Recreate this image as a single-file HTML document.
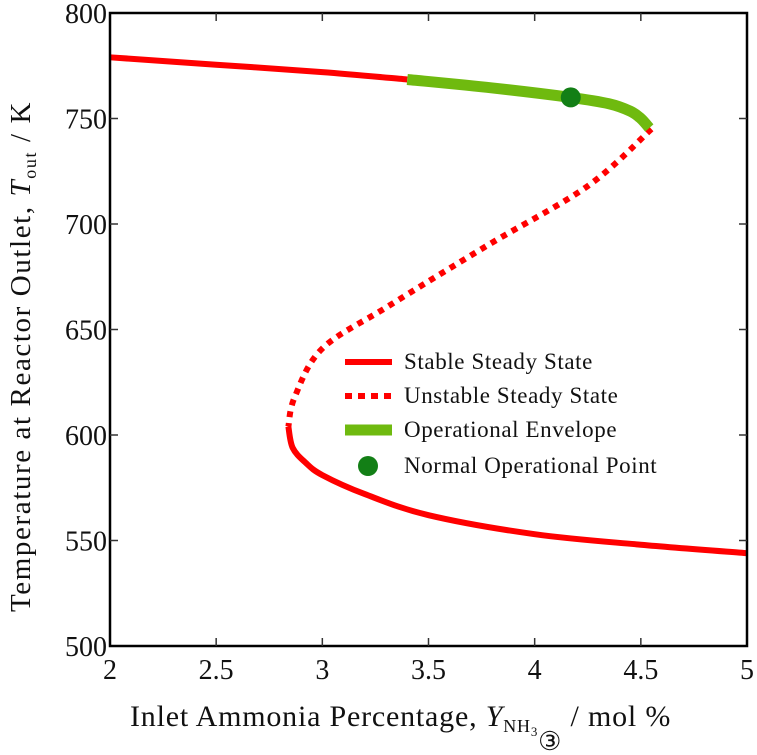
<!DOCTYPE html>
<html><head><meta charset="utf-8"><style>
body{margin:0;background:#fff}
svg text{font-family:"Liberation Serif",serif;fill:#111}
</style></head><body>
<svg id="chart" width="757" height="755" viewBox="0 0 757 755" xmlns="http://www.w3.org/2000/svg" style="position:absolute;left:0;top:0">
<g id="plot"></g>
</svg>
<script>
const xTicks=[2,2.5,3,3.5,4,4.5,5];
const xTickLabels=["2","2.5","3","3.5","4","4.5","5"];
const yTicks=[500,550,600,650,700,750,800];
const yTickLabels=["500","550","600","650","700","750","800"];
const stableUpperX=[2,2.5,3,3.4];
const stableUpperT=[779,775.5,772,768.5];
const envelopeX=[3.4,3.8,4.17,4.35,4.45,4.5,4.54];
const envelopeT=[768.5,764.5,760,757,753.5,750,745.5];
const unstableX=[4.55,4.25,3.78,3.31,3.0,2.87,2.84];
const unstableT=[745,718,690,661,641,618,604];
const stableLowerX=[2.84,2.86,2.92,3,3.2,3.5,4,4.5,5];
const stableLowerT=[604,594,587,581,572,562,553,548,544];
const pointX=[4.17];const pointT=[760];
const legendLabels=["Stable Steady State","Unstable Steady State","Operational Envelope","Normal Operational Point"];

const L=110,R=747,T=13,B=646;
const sx=v=>L+(v-2)/3*(R-L);
const sy=v=>B-(v-500)/300*(B-T);
const NS="http://www.w3.org/2000/svg";
const g=document.getElementById('plot');
function mk(tag,attrs,name){const e=document.createElementNS(NS,tag);for(const k in attrs)e.setAttribute(k,attrs[k]);


g.appendChild(e);return e;}
function pathD(xs,ts){const p=xs.map((x,i)=>[sx(x),sy(ts[i])]);let d='M'+p[0][0]+','+p[0][1];
for(let i=0;i<p.length-1;i++){const p0=p[i-1]||p[i],p1=p[i],p2=p[i+1],p3=p[i+2]||p2;
const c1=[p1[0]+(p2[0]-p0[0])/6,p1[1]+(p2[1]-p0[1])/6],c2=[p2[0]-(p3[0]-p1[0])/6,p2[1]-(p3[1]-p1[1])/6];
d+=' C'+c1+' '+c2+' '+p2;}return d;}
mk('path',{d:pathD(stableUpperX,stableUpperT),fill:'none',stroke:'#ff0000','stroke-width':6},'stable-upper-line');
mk('path',{d:pathD(unstableX,unstableT),fill:'none',stroke:'#ff0000','stroke-width':6,'stroke-dasharray':'6 6'},'unstable-line');
mk('path',{d:pathD(stableLowerX,stableLowerT),fill:'none',stroke:'#ff0000','stroke-width':6},'stable-lower-line');
mk('path',{d:pathD(envelopeX,envelopeT),fill:'none',stroke:'#6fba0f','stroke-width':11},'operational-envelope-line');
pointX.forEach((x,i)=>mk('circle',{cx:sx(x),cy:sy(pointT[i]),r:10,fill:'#137f16'},'normal-operational-point'));
mk('rect',{x:L,y:T,width:R-L,height:B-T,fill:'none',stroke:'#000','stroke-width':2.5},'plot-frame');
xTicks.forEach((v,i)=>{const x=sx(v);
if(i>0&&i<xTicks.length-1){mk('line',{x1:x,x2:x,y1:B,y2:B-8,stroke:'#333','stroke-width':1.5},'x-tick');mk('line',{x1:x,x2:x,y1:T,y2:T+8,stroke:'#333','stroke-width':1.5},'x-tick-top');}
const t=mk('text',{x:x,y:B+33,'text-anchor':'middle','font-size':28},'x-tick-label');t.textContent=xTickLabels[i];});
yTicks.forEach((v,i)=>{const y=sy(v);
if(i>0&&i<yTicks.length-1){mk('line',{x1:L,x2:L+8,y1:y,y2:y,stroke:'#333','stroke-width':1.5},'y-tick');mk('line',{x1:R,x2:R-8,y1:y,y2:y,stroke:'#333','stroke-width':1.5},'y-tick-right');}
const t=mk('text',{x:L-3,y:y+10,'text-anchor':'end','font-size':28},'y-tick-label');t.textContent=yTickLabels[i];});
const ly=[362,396,430,466];
mk('line',{x1:345,x2:392,y1:ly[0],y2:ly[0],stroke:'#ff0000','stroke-width':6},'legend-stable-swatch');
mk('line',{x1:345,x2:392,y1:ly[1],y2:ly[1],stroke:'#ff0000','stroke-width':6,'stroke-dasharray':'7 6'},'legend-unstable-swatch');
mk('line',{x1:345,x2:392,y1:ly[2],y2:ly[2],stroke:'#6fba0f','stroke-width':11},'legend-envelope-swatch');
mk('circle',{cx:368,cy:ly[3],r:10,fill:'#137f16'},'legend-point-swatch');
legendLabels.forEach((s,i)=>{const t=mk('text',{x:404,y:ly[i]+7,'font-size':23,'letter-spacing':0.6},'legend-entry');t.textContent=s;});
</script>
<svg style="position:absolute;left:0;top:0" width="757" height="755">
<text x="130" y="726" font-size="30" letter-spacing="0.8" style="font-family:'Liberation Serif',serif">Inlet Ammonia Percentage, <tspan font-style="italic">Y</tspan><tspan font-size="18" dy="6">NH</tspan><tspan font-size="13" dy="4">3</tspan><tspan font-size="26" dy="14">③</tspan><tspan dy="-24"> / mol %</tspan></text>
<text transform="translate(30,612) rotate(-90)" font-size="29" letter-spacing="1.6" style="font-family:'Liberation Serif',serif">Temperature at Reactor Outlet, <tspan font-style="italic">T</tspan><tspan font-size="18" dy="6">out</tspan><tspan dy="-6"> / K</tspan></text>
</svg>
</body></html>
